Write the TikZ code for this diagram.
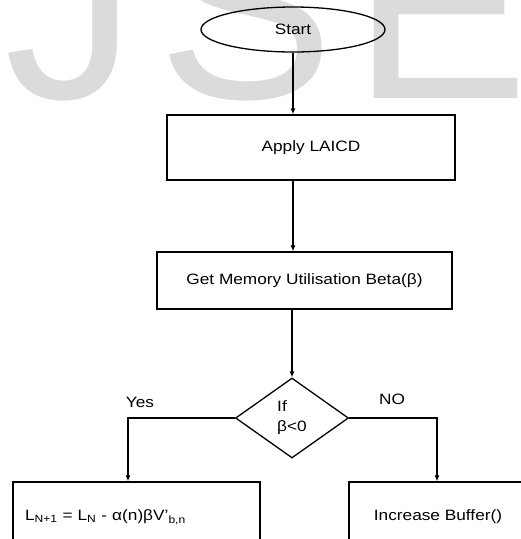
\documentclass[tikz,border=0pt]{standalone}
\usepackage{fontspec}
\setmainfont{Liberation Sans}[FakeStretch=1.15]
\newfontfamily\markfont{Liberation Sans}
\usetikzlibrary{shapes.geometric,arrows.meta}
\begin{document}
\begin{tikzpicture}[x=1pt,y=-1pt,
	every node/.style={font=\fontsize{15}{20}\selectfont, inner sep=0pt},
	block/.style={draw, black, line width=1.3pt},
	wmark/.style={text=black!14, font=\markfont\fontsize{265}{265}\selectfont, anchor=base},
	arr/.style={black, line width=1.2pt, -{Latex[length=6pt,width=5pt]}}]
	\useasboundingbox (0,0) rectangle (521,539);
	% watermark letters
	\node [wmark] (markJ) at (71,98) {J};
	\node [wmark] (markS) at (246,98) {S};
	\node [wmark] (markE) at (441,98) {E};
	% flow
	\node [block, ellipse, minimum width=184pt, minimum height=45pt] (start) at (293,29.5) {Start};
	\node [block, minimum width=288pt, minimum height=65pt] (laicd) at (311,147.5) {Apply LAICD};
	\node [block, minimum width=295pt, minimum height=57pt] (beta) at (304.5,280.5) {Get Memory Utilisation Beta(β)};
	\node [block, diamond, minimum width=113pt, minimum height=80pt, align=left] (test) at (292,418) {If\\β<0};
	\node [block, minimum width=247pt, minimum height=70pt, text width=223pt, inner xsep=12pt, align=left] (update) at (136.5,517)
		{L\textsubscript{N+1} = L\textsubscript{N} - α(n)βV'\textsubscript{b,n}};
	\node [block, minimum width=178pt, minimum height=70pt] (buffer) at (438,517) {Increase Buffer()};
	\coordinate (yesturn) at (128,418);
	\coordinate (noturn) at (437,418);
	\draw [arr] (start.south) -- (start.south |- laicd.north);
	\draw [arr] (laicd.south -| start) -- (beta.north -| start);
	\draw [arr] (beta.south -| test) -- (test.north);
	\draw [arr] (test.west) -- (yesturn) -- (yesturn |- update.north);
	\draw [arr] (test.east) -- (noturn) -- (noturn |- buffer.north);
	\node (yes) at (140,402) {Yes};
	\node (no) at (392,399) {NO};
\end{tikzpicture}
\end{document}
